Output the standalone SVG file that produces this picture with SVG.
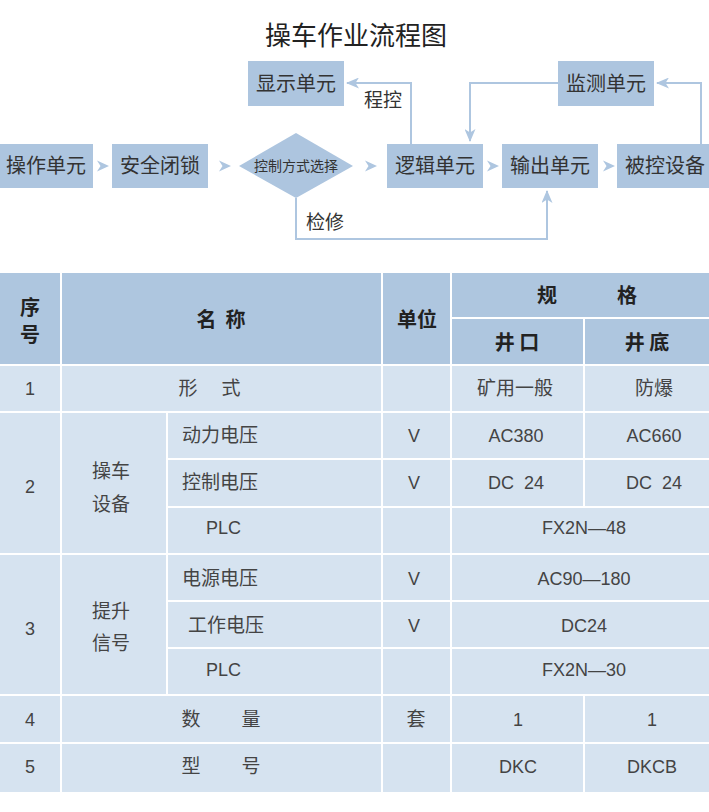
<svg xmlns="http://www.w3.org/2000/svg" xmlns:xlink="http://www.w3.org/1999/xlink" width="709" height="812" viewBox="0 0 709 812">
<defs>
<style>
.box{fill:#adc5df}
.bt{font-family:"Noto Sans CJK SC","Noto Sans",sans-serif;font-size:20px;fill:#333;text-anchor:middle}
.lbl{font-family:"Noto Sans CJK SC","Noto Sans",sans-serif;font-size:19px;fill:#333;text-anchor:middle}
.ln{fill:none;stroke:#aec6e0;stroke-width:2}
.chev{fill:#aec6e0}
.hc{fill:#aec6df}
.bc{fill:#d6e3f0}
.ht{font-family:"Noto Sans CJK SC","Noto Sans",sans-serif;font-size:20px;font-weight:bold;fill:#222;text-anchor:middle}
.ct{font-family:"Noto Sans CJK SC","Noto Sans",sans-serif;font-size:19px;fill:#444;text-anchor:middle}
.ctl{font-family:"Noto Sans CJK SC","Noto Sans",sans-serif;font-size:19px;fill:#444}
.nt{font-family:"Liberation Sans","Noto Sans",sans-serif;font-size:18px;fill:#444;text-anchor:middle}
.ntl{font-family:"Liberation Sans","Noto Sans",sans-serif;font-size:18px;fill:#444}
</style>
<marker id="ah" markerUnits="userSpaceOnUse" markerWidth="13" markerHeight="11" viewBox="0 0 13 11" refX="12" refY="5.5" orient="auto">
<path d="M0,0 L13,5.5 L0,11 L3.5,5.5 z" fill="#aec6e0"/>
</marker>
<path id="chev" d="M0,-5.5 L12,0 L0,5.5 L3.5,0 z"/>
<linearGradient id="tl" x1="0" x2="1" y1="0" y2="0">
<stop offset="0" stop-color="#c8c4b8" stop-opacity="0.2"/>
<stop offset="0.5" stop-color="#8a8470"/>
<stop offset="1" stop-color="#7a7560"/>
</linearGradient>
</defs>
<rect width="709" height="812" fill="#ffffff"/>
<text x="356" y="45" font-family="Noto Sans CJK SC, Noto Sans, sans-serif" font-size="26" fill="#222" text-anchor="middle">操车作业流程图</text>

<g id="connectors">
<path class="ln" d="M411,144 V83 H347" marker-end="url(#ah)"/>
<path class="ln" d="M558,83 H470 V141" marker-end="url(#ah)"/>
<path class="ln" d="M701,144 V83 H657" marker-end="url(#ah)"/>
<path class="ln" d="M296,198 V239 H547 V191" marker-end="url(#ah)"/>
<use xlink:href="#chev" href="#chev" class="chev" x="97" y="166"/>
<use xlink:href="#chev" href="#chev" class="chev" x="219" y="166"/>
<use xlink:href="#chev" href="#chev" class="chev" x="365" y="166"/>
<use xlink:href="#chev" href="#chev" class="chev" x="487" y="166"/>
<use xlink:href="#chev" href="#chev" class="chev" x="603" y="166"/>
<text class="lbl" x="383" y="107">程控</text>
<text class="lbl" x="325" y="229">检修</text>
</g>

<g id="n-display"><rect class="box" x="248" y="61" width="96" height="45"/><text class="bt" x="296" y="91">显示单元</text></g>
<g id="n-monitor"><rect class="box" x="558" y="61" width="96" height="45"/><text class="bt" x="606" y="91">监测单元</text></g>
<g id="n-operate"><rect class="box" x="0" y="144" width="93" height="44"/><text class="bt" x="46" y="173">操作单元</text></g>
<g id="n-lock"><rect class="box" x="112" y="144" width="96" height="44"/><text class="bt" x="160" y="173">安全闭锁</text></g>
<g id="n-select"><polygon class="box" points="239,166 296,133 353,166 296,198"/><text class="bt" x="296" y="171" style="font-size:14px">控制方式选择</text></g>
<g id="n-logic"><rect class="box" x="387" y="144" width="96" height="44"/><text class="bt" x="435" y="173">逻辑单元</text></g>
<g id="n-output"><rect class="box" x="502" y="144" width="96" height="44"/><text class="bt" x="550" y="173">输出单元</text></g>
<g id="n-device"><rect class="box" x="617" y="144" width="92" height="44"/><text class="bt" x="665" y="173">被控设备</text></g>

<g id="table">
<line x1="290" y1="271.5" x2="514" y2="271.5" stroke="url(#tl)" stroke-width="1.2"/>
<!-- header -->
<rect class="hc" x="0" y="273" width="60" height="91"/>
<rect class="hc" x="62" y="273" width="319" height="91"/>
<rect class="hc" x="383" y="273" width="67" height="91"/>
<rect class="hc" x="452" y="273" width="257" height="44"/>
<rect class="hc" x="452" y="319" width="131" height="45"/>
<rect class="hc" x="585" y="319" width="124" height="45"/>
<text class="ht" x="30" y="315">序</text>
<text class="ht" x="30" y="342">号</text>
<text class="ht" x="221" y="327" xml:space="preserve">名  称</text>
<text class="ht" x="417" y="327">单位</text>
<text class="ht" x="547" y="303">规</text>
<text class="ht" x="627" y="303">格</text>
<text class="ht" x="517" y="350" xml:space="preserve">井 口</text>
<text class="ht" x="647" y="350" xml:space="preserve">井 底</text>
<!-- row 1 -->
<rect class="bc" x="0" y="366" width="60" height="45"/>
<rect class="bc" x="62" y="366" width="319" height="45"/>
<rect class="bc" x="383" y="366" width="67" height="45"/>
<rect class="bc" x="452" y="366" width="131" height="45"/>
<rect class="bc" x="585" y="366" width="124" height="45"/>
<text class="nt" x="30" y="395">1</text>
<text class="ct" x="188" y="395">形</text>
<text class="ct" x="231" y="395">式</text>
<text class="ct" x="515" y="395">矿用一般</text>
<text class="ct" x="654" y="395">防爆</text>
<!-- row 2 -->
<rect class="bc" x="0" y="413" width="60" height="140"/>
<rect class="bc" x="62" y="413" width="104" height="140"/>
<rect class="bc" x="168" y="413" width="213" height="45"/>
<rect class="bc" x="383" y="413" width="67" height="45"/>
<rect class="bc" x="452" y="413" width="131" height="45"/>
<rect class="bc" x="585" y="413" width="124" height="45"/>
<rect class="bc" x="168" y="460" width="213" height="46"/>
<rect class="bc" x="383" y="460" width="67" height="46"/>
<rect class="bc" x="452" y="460" width="131" height="46"/>
<rect class="bc" x="585" y="460" width="124" height="46"/>
<rect class="bc" x="168" y="508" width="213" height="45"/>
<rect class="bc" x="383" y="508" width="67" height="45"/>
<rect class="bc" x="452" y="508" width="257" height="45"/>
<text class="nt" x="30" y="493">2</text>
<text class="ct" x="111" y="478">操车</text>
<text class="ct" x="111" y="511">设备</text>
<text class="ctl" x="182" y="442">动力电压</text>
<text class="nt" x="414" y="442">V</text>
<text class="nt" x="516" y="442">AC380</text>
<text class="nt" x="654" y="442">AC660</text>
<text class="ctl" x="182" y="489">控制电压</text>
<text class="nt" x="414" y="489">V</text>
<text class="nt" x="516" y="489" xml:space="preserve">DC  24</text>
<text class="nt" x="654" y="489" xml:space="preserve">DC  24</text>
<text class="ntl" x="206" y="534">PLC</text>
<text class="nt" x="584" y="534">FX2N—48</text>
<!-- row 3 -->
<rect class="bc" x="0" y="555" width="60" height="139"/>
<rect class="bc" x="62" y="555" width="104" height="139"/>
<rect class="bc" x="168" y="555" width="213" height="45"/>
<rect class="bc" x="383" y="555" width="67" height="45"/>
<rect class="bc" x="452" y="555" width="257" height="45"/>
<rect class="bc" x="168" y="602" width="213" height="45"/>
<rect class="bc" x="383" y="602" width="67" height="45"/>
<rect class="bc" x="452" y="602" width="257" height="45"/>
<rect class="bc" x="168" y="649" width="213" height="45"/>
<rect class="bc" x="383" y="649" width="67" height="45"/>
<rect class="bc" x="452" y="649" width="257" height="45"/>
<text class="nt" x="30" y="635">3</text>
<text class="ct" x="111" y="618">提升</text>
<text class="ct" x="111" y="650">信号</text>
<text class="ctl" x="182" y="585">电源电压</text>
<text class="nt" x="414" y="585">V</text>
<text class="nt" x="584" y="585">AC90—180</text>
<text class="ctl" x="188" y="632">工作电压</text>
<text class="nt" x="414" y="632">V</text>
<text class="nt" x="584" y="632">DC24</text>
<text class="ntl" x="206" y="676">PLC</text>
<text class="nt" x="584" y="676">FX2N—30</text>
<!-- row 4 -->
<rect class="bc" x="0" y="696" width="60" height="46"/>
<rect class="bc" x="62" y="696" width="319" height="46"/>
<rect class="bc" x="383" y="696" width="67" height="46"/>
<rect class="bc" x="452" y="696" width="131" height="46"/>
<rect class="bc" x="585" y="696" width="124" height="46"/>
<text class="nt" x="30" y="726">4</text>
<text class="ct" x="191" y="726">数</text>
<text class="ct" x="251" y="726">量</text>
<text class="ct" x="416" y="726">套</text>
<text class="nt" x="518" y="726">1</text>
<text class="nt" x="652" y="726">1</text>
<!-- row 5 -->
<rect class="bc" x="0" y="744" width="60" height="48"/>
<rect class="bc" x="62" y="744" width="319" height="48"/>
<rect class="bc" x="383" y="744" width="67" height="48"/>
<rect class="bc" x="452" y="744" width="131" height="48"/>
<rect class="bc" x="585" y="744" width="124" height="48"/>
<text class="nt" x="30" y="773">5</text>
<text class="ct" x="191" y="773">型</text>
<text class="ct" x="251" y="773">号</text>
<text class="nt" x="518" y="773">DKC</text>
<text class="nt" x="652" y="773">DKCB</text>
</g>
</svg>
